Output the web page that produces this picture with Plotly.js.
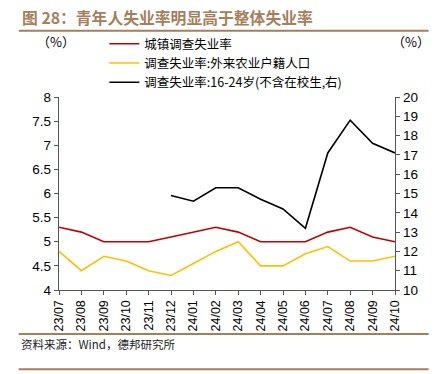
<!DOCTYPE html>
<html><head><meta charset="utf-8">
<script src="https://cdn.plot.ly/plotly-3.0.1.min.js"></script>
<style>html,body{margin:0;padding:0;background:#fff;}#c{width:444px;height:374px;}</style>
</head><body><div id="c"></div>
<script>
const months = ["23/07","23/08","23/09","23/10","23/11","23/12","24/01","24/02","24/03","24/04","24/05","24/06","24/07","24/08","24/09","24/10"];
const urbanRate = [5.3,5.2,5.0,5.0,5.0,5.1,5.2,5.3,5.2,5.0,5.0,5.0,5.2,5.3,5.1,5.0];
const migrantRate = [4.8,4.4,4.7,4.6,4.4,4.3,4.55,4.8,5.0,4.5,4.5,4.75,4.9,4.6,4.6,4.7];
const youthRate = [null,null,null,null,null,14.9,14.6,15.3,15.3,14.7,14.2,13.2,17.1,18.8,17.6,17.1];
const seriesNames = ["城镇调查失业率","调查失业率:外来农业户籍人口","调查失业率:16-24岁(不含在校生,右)"];

const FONT = "Liberation Sans, Arial, Noto Sans CJK SC, sans-serif";
const CJK = "Noto Sans CJK SC, Liberation Sans, sans-serif";
const BROWN = "#a57f5c";

const traces = [
  {x: months, y: urbanRate, name: seriesNames[0], type: "scatter", mode: "lines", line: {color: "#c00000", width: 1.6}},
  {x: months, y: migrantRate, name: seriesNames[1], type: "scatter", mode: "lines", line: {color: "#ffc000", width: 1.6}},
  {x: months, y: youthRate, name: seriesNames[2], type: "scatter", mode: "lines", yaxis: "y2", line: {color: "#000000", width: 1.6}}
];

const layout = {
  width: 444, height: 374,
  margin: {l: 59, r: 49, t: 97, b: 84},
  paper_bgcolor: "#fff", plot_bgcolor: "#fff",
  font: {family: FONT, size: 13, color: "#000"},
  showlegend: true,
  legend: {x: 0.135, y: 1.352, xanchor: "left", yanchor: "top", bgcolor: "rgba(0,0,0,0)",
           font: {size: 12.5, family: CJK}, tracegroupgap: 0, itemwidth: 30},
  xaxis: {type: "category", range: [0, 15], showgrid: false, zeroline: false,
          showline: true, linecolor: "#555", linewidth: 1.2,
          ticks: "outside", ticklen: 4, tickcolor: "#555", tickangle: -90,
          tickfont: {size: 12.5, family: FONT}},
  yaxis: {range: [4, 8], dtick: 0.5, showgrid: false, zeroline: false,
          showline: true, linecolor: "#555", linewidth: 1.2,
          ticks: "outside", ticklen: 4, tickcolor: "#555", tickfont: {size: 13.5, family: FONT}},
  yaxis2: {range: [10, 20], dtick: 1, overlaying: "y", side: "right", showgrid: false, zeroline: false,
           showline: true, linecolor: "#555", linewidth: 1.2,
           ticks: "outside", ticklen: 4, tickcolor: "#555", tickfont: {size: 13.5, family: FONT}},
  shapes: [
    {type: "line", xref: "paper", yref: "paper", x0: -0.12, x1: 1.1, y0: 1.343, y1: 1.343, line: {color: BROWN, width: 2}},
    {type: "line", xref: "paper", yref: "paper", x0: -0.12, x1: 1.1, y0: -0.228, y1: -0.228, line: {color: BROWN, width: 2}},
    {type: "line", xref: "paper", yref: "paper", x0: -0.12, x1: 1.1, y0: -0.41, y1: -0.41, line: {color: BROWN, width: 2}}
  ],
  annotations: [
    {text: "<b>图 28：青年人失业率明显高于整体失业率</b>", xref: "paper", yref: "paper", x: -0.117, y: 1.41,
     xanchor: "left", yanchor: "middle", showarrow: false, font: {size: 15.8, color: BROWN, family: CJK}},
    {text: "（%）", xref: "paper", yref: "paper", x: -0.07, y: 1.285, xanchor: "left", yanchor: "middle", showarrow: false,
     font: {size: 13, family: CJK}},
    {text: "（%）", xref: "paper", yref: "paper", x: 0.985, y: 1.285, xanchor: "left", yanchor: "middle", showarrow: false,
     font: {size: 13, family: CJK}},
    {text: "资料来源：Wind，德邦研究所", xref: "paper", yref: "paper", x: -0.12, y: -0.282, xanchor: "left", yanchor: "middle", showarrow: false,
     font: {size: 11.5, family: CJK, color: "#222"}}
  ]
};

Plotly.newPlot("c", traces, layout, {displayModeBar: false, staticPlot: true});
</script></body></html>
